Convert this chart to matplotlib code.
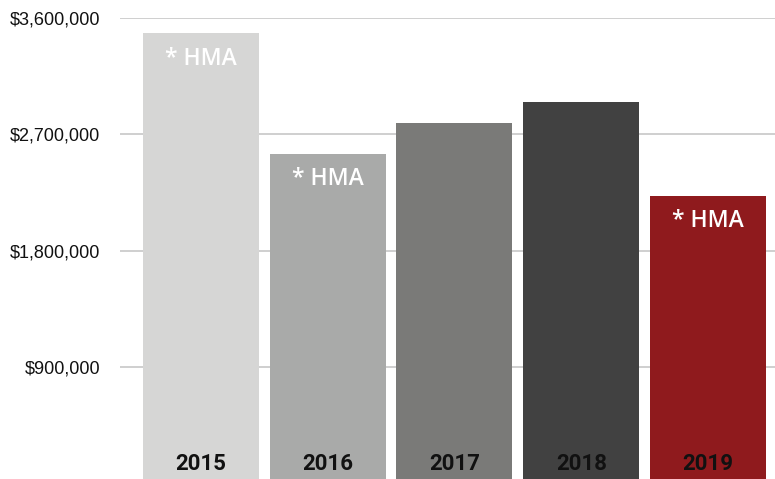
import numpy as np
import matplotlib
matplotlib.use("Agg")
import matplotlib.pyplot as plt
from matplotlib.ticker import FuncFormatter

# Datos
years = ["2015", "2016", "2017", "2018", "2019"]
values = [3485000, 2550000, 2790000, 2950000, 2225000]
hma_flags = [True, True, False, False, True]
bar_colors = ["#d6d6d5", "#a9aaa9", "#7a7a78", "#414141", "#8f1a1d"]
y_ticks = [900000, 1800000, 2700000, 3600000]

fig = plt.figure(figsize=(7.75, 4.79), dpi=100)
# ejes colocados a mano: el 0 queda un poco por debajo del borde inferior
ax = fig.add_axes([120 / 775, -4.3 / 479, 655 / 775, 465.3 / 479])

x = np.arange(len(years))
bars = ax.bar(x, values, width=0.915, color=bar_colors, zorder=2)

ax.set_xlim(-0.639, 4.529)
ax.set_ylim(0, 3600000)
ax.set_yticks(y_ticks)
ax.yaxis.set_major_formatter(FuncFormatter(lambda v, _: f"${v:,.0f}"))
ax.grid(axis="y", color="#cccccc", linewidth=1.3, zorder=0)
ax.set_xticks([])
for s in ax.spines.values():
    s.set_visible(False)
ax.tick_params(axis="y", length=0, pad=14, labelsize=13, labelcolor="#111111")
for lbl in ax.get_yticklabels():
    lbl.set_fontfamily("Liberation Sans")

for b, year, hma in zip(bars, years, hma_flags):
    cx = b.get_x() + b.get_width() / 2
    ax.annotate(year, (cx, 0), xytext=(0, 6), textcoords="offset points",
                ha="center", va="bottom", fontsize=16, fontweight="bold",
                family="Roboto", color="#111111",
                annotation_clip=False, zorder=3)
    if hma:
        ax.annotate("* HMA", (cx, b.get_height()), xytext=(0, -18.5),
                    textcoords="offset points", ha="center", va="center",
                    fontsize=16.5, fontweight="semibold", family="Open Sans",
                    color="white", zorder=3)

fig.savefig("out.png", dpi=100)
